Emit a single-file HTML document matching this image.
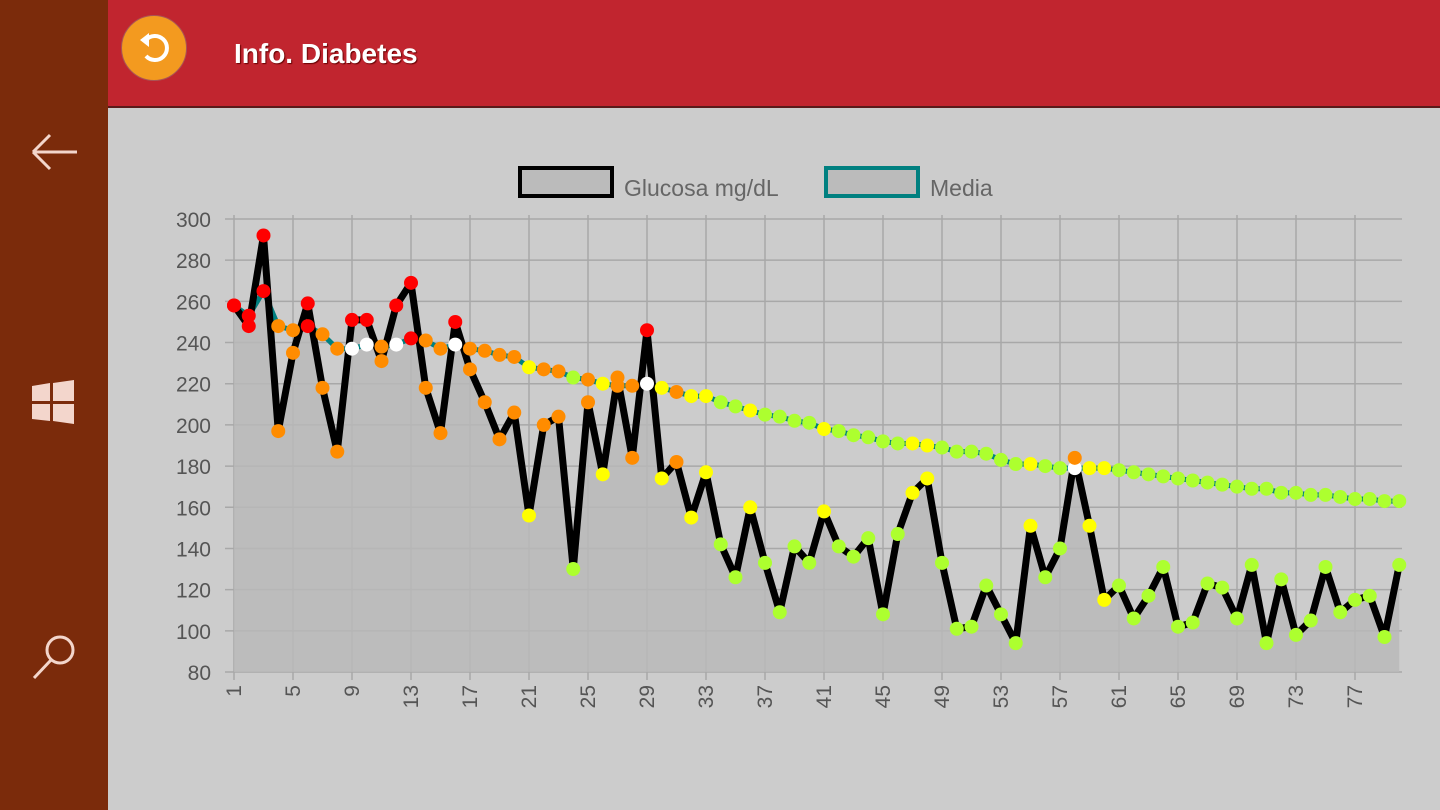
<!DOCTYPE html>
<html><head><meta charset="utf-8"><style>
body{margin:0;width:1440px;height:810px;overflow:hidden;background:#cccccc;font-family:"Liberation Sans",sans-serif;position:relative}
#side{position:absolute;left:0;top:0;width:108px;height:810px;background:#7b2b0b}
#hdr{position:absolute;left:108px;top:0;width:1332px;height:106px;background:#c1252f;border-bottom:2px solid #5a1a1a}
#title{position:absolute;left:126px;top:38px;color:#fff;font-weight:bold;font-size:28px;text-shadow:1px 1px 1px #600}
#back{position:absolute;left:13px;top:15px;width:64px;height:64px;border-radius:50%;background:#f39a1f;border:1px solid #a55}
svg{position:absolute;left:0;top:0}
</style></head><body>
<div id="side">
<svg width="108" height="810">
<g stroke="#f3d6cc" stroke-width="3" fill="none"><path d="M33 152 H77 M33 152 L50 135 M33 152 L50 169"/></g>
<g fill="#f3d6cc"><path d="M32 386 L50 383 L50 401 L32 401Z M53 383 L74 380 L74 401 L53 401Z M32 404 L50 404 L50 421 L32 419Z M53 404 L74 404 L74 424 L53 421Z"/></g>
<g stroke="#f3d6cc" stroke-width="3" fill="none"><circle cx="60" cy="650" r="13"/><path d="M51 660 L34 678"/></g>
</svg></div>
<div id="hdr">
<div id="back"><svg width="64" height="64"><path d="M24 24 A12 12 0 1 1 24 40" stroke="#fff" stroke-width="4" fill="none"/><path d="M18 24 L27 17 L27 31Z" fill="#fff"/></svg></div>
<div id="title">Info. Diabetes</div>
</div>
<svg id="chart" width="1440" height="810" style="top:0;left:0"></svg>
<script>
const days=[];for(let i=1;i<=80;i++)days.push(i);
const glucose=[258,248,292,197,235,259,218,187,251,251,231,258,269,218,196,250,227,211,193,206,156,200,204,130,211,176,223,184,246,174,182,155,177,142,126,160,133,109,141,133,158,141,136,145,108,147,167,174,133,101,102,122,108,94,151,126,140,184,151,115,122,106,117,131,102,104,123,121,106,132,94,125,98,105,131,109,115,117,97,132];
const media=[258,253,265,248,246,248,244,237,237,239,238,239,242,241,237,239,237,236,234,233,228,227,226,223,222,220,219,219,220,218,216,214,214,211,209,207,205,204,202,201,198,197,195,194,192,191,191,190,189,187,187,186,183,181,181,180,179,179,179,179,178,177,176,175,174,173,172,171,170,169,169,167,167,166,166,165,164,164,163,163];
const glucoseColors=['r','r','r','o','o','r','o','o','r','r',
'o','r','r','o','o','r','o','o','o','o',
'y','o','o','g','o','y','o','o','r','y',
'o','y','y','g','g','y','g','g','g','g',
'y','g','g','g','g','g','y','y','g','g',
'g','g','g','g','y','g','g','o','y','y',
'g','g','g','g','g','g','g','g','g','g',
'g','g','g','g','g','g','g','g','g','g'];
const mediaColors=['r','r','r','o','o','r','o','o','w','w',
'o','w','r','o','o','w','o','o','o','o',
'y','o','o','g','o','y','o','o','w','y',
'o','y','y','g','g','y','g','g','g','g',
'y','g','g','g','g','g','y','y','g','g',
'g','g','g','g','y','g','g','w','y','y',
'g','g','g','g','g','g','g','g','g','g',
'g','g','g','g','g','g','g','g','g','g'];
const yTicks=[80,100,120,140,160,180,200,220,240,260,280,300];
const xTicks=[1,5,9,13,17,21,25,29,33,37,41,45,49,53,57,61,65,69,73,77];
const COL={r:"#ff0000",o:"#ff8c00",y:"#ffff00",g:"#adff2f",w:"#ffffff"};
const X=d=>234+(d-1)*14.75, Y=v=>672-(v-80)*(453/220);
const svg=document.getElementById('chart');const NS="http://www.w3.org/2000/svg";
function mk(t,a,p){const e=document.createElementNS(NS,t);for(const k in a)e.setAttribute(k,a[k]);(p||svg).appendChild(e);return e;}
yTicks.forEach(v=>{const l=mk('line',{x1:225,x2:1402,y1:Y(v),y2:Y(v),stroke:'#a8a8a8','stroke-width':1.5});

const t=mk('text',{x:211,y:Y(v)+8,'text-anchor':'end','font-size':21,fill:'#555'});t.textContent=v;
});
xTicks.forEach(d=>{const l=mk('line',{x1:X(d),x2:X(d),y1:215,y2:680,stroke:'#a8a8a8','stroke-width':1.5});

const t=mk('text',{x:0,y:0,transform:`translate(${X(d)+7},685) rotate(-90)`,'text-anchor':'end','font-size':21,fill:'#555'});t.textContent=d;
});
let ap=`M${X(1)} ${Y(80)} `+glucose.map((v,i)=>`L${X(days[i])} ${Y(v)}`).join(' ')+` L${X(days[days.length-1])} ${Y(80)}Z`;
const area=mk('path',{d:ap,fill:'#b9b9b9',opacity:0.85});

const ml=mk('polyline',{points:media.map((v,i)=>X(days[i])+','+Y(v)).join(' '),fill:'none',stroke:'#008080','stroke-width':5});

const gl=mk('polyline',{points:glucose.map((v,i)=>X(days[i])+','+Y(v)).join(' '),fill:'none',stroke:'#000','stroke-width':7,'stroke-linejoin':'round'});

media.forEach((v,i)=>{const c=mk('circle',{cx:X(days[i]),cy:Y(v),r:7,fill:COL[mediaColors[i]]||COL.g});
});
glucose.forEach((v,i)=>{const c=mk('circle',{cx:X(days[i]),cy:Y(v),r:7,fill:COL[glucoseColors[i]]||COL.g});
});
const lg=mk('g',{});
const r1=mk('rect',{x:520,y:168,width:92,height:28,fill:'#bbb',stroke:'#000','stroke-width':4},lg);

const t1=mk('text',{x:624,y:196,'font-size':23,fill:'#666'},lg);t1.textContent='Glucosa mg/dL';

const r2=mk('rect',{x:826,y:168,width:92,height:28,fill:'#bbb',stroke:'#008080','stroke-width':4},lg);

const t2=mk('text',{x:930,y:196,'font-size':23,fill:'#666'},lg);t2.textContent='Media';

</script>
</body></html>
